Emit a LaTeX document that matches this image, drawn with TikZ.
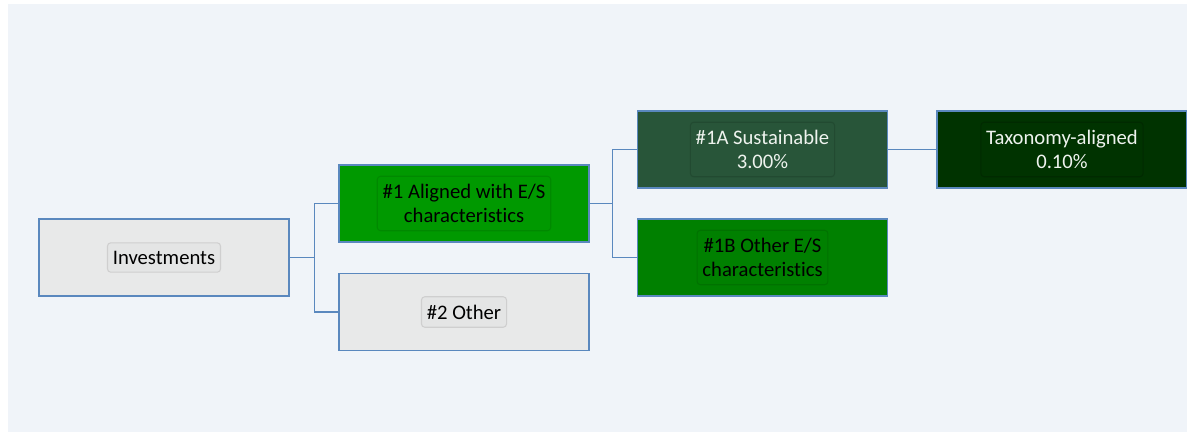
\documentclass[tikz,border=0pt]{standalone}
\usepackage{fontspec}
\setmainfont{Carlito}[Ligatures=NoCommon]
\definecolor{bgc}{HTML}{F0F4F9}
\definecolor{bordc}{HTML}{5A88BE}
\definecolor{greyf}{HTML}{E8E9E9}
\definecolor{greyin}{HTML}{E4E5E5}
\definecolor{greyinb}{HTML}{CFCFCF}
\definecolor{gA}{HTML}{009900}
\definecolor{gAb}{HTML}{008900}
\definecolor{gB}{HTML}{008000}
\definecolor{gBb}{HTML}{007200}
\definecolor{gS}{HTML}{285539}
\definecolor{gSb}{HTML}{224A31}
\definecolor{gT}{HTML}{003300}
\definecolor{gTb}{HTML}{002A00}
\definecolor{lighttxt}{HTML}{EEF3EE}
\begin{document}
\begin{tikzpicture}[x=0.75pt,y=-0.75pt,
  outer/.style={draw=bordc, line width=1.1pt, minimum width=187.5pt, minimum height=57.5pt, inner sep=0pt},
  lbl/.style={rounded corners=2.5pt, line width=0.8pt, inner xsep=4pt, inner ysep=6pt, align=center,
    font=\fontsize{15.5}{18}\selectfont},
  conn/.style={draw=bordc, line width=1.1pt}]
\useasboundingbox (0,0) rectangle (1187,432);
\fill[white] (0,0) rectangle (1187,432);
\fill[bgc] (8,4) rectangle (1187,432);
% outer boxes
\node[outer, fill=greyf] (inv) at (164,257.5) {};
\node[outer, fill=gA] (al) at (464,203.5) {};
\node[outer, fill=greyf] (oth) at (464,312) {};
\node[outer, fill=gS] (s1a) at (762.5,149.5) {};
\node[outer, fill=gT] (tax) at (1062,149.5) {};
\node[outer, fill=gB] (s1b) at (762.5,257.5) {};
% labels
\node[lbl, fill=greyin, draw=greyinb, text=black] (invl) at (inv.center) {Investments};
\node[lbl, fill=gA, draw=gAb, text=black] (all) at (al.center) {\#1 Aligned with E/S\\characteristics};
\node[lbl, fill=greyin, draw=greyinb, text=black] (othl) at (oth.center) {\#2 Other};
\node[lbl, fill=gS, draw=gSb, text=lighttxt] (s1al) at (s1a.center) {\#1A Sustainable\\3.00\%};
\node[lbl, fill=gT, draw=gTb, text=lighttxt] (taxl) at (tax.center) {Taxonomy-aligned\\0.10\%};
\node[lbl, fill=gB, draw=gBb, text=black] (s1bl) at (s1b.center) {\#1B Other E/S\\characteristics};
% connectors
\draw[conn] (inv.east) -- ++(25,0) |- (al.west);
\draw[conn] (inv.east) -- ++(25,0) |- (oth.west);
\draw[conn] (al.east) -- ++(23,0) |- (s1a.west);
\draw[conn] (al.east) -- ++(23,0) |- (s1b.west);
\draw[conn] (s1a.east) -- (tax.west);
\end{tikzpicture}
\end{document}
